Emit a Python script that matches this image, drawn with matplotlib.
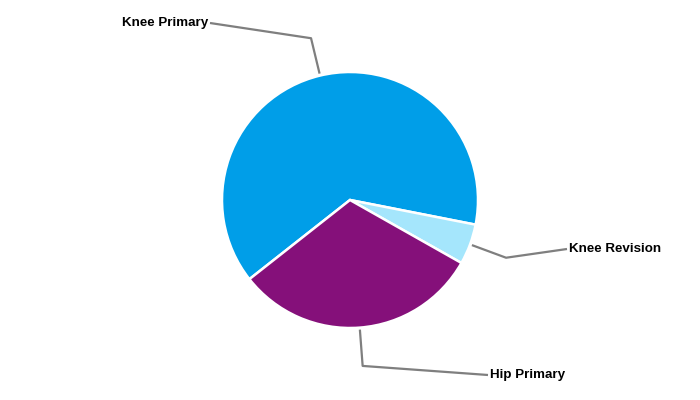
import numpy as np
import matplotlib.pyplot as plt

# data
categories = ["Knee Primary", "Knee Revision", "Hip Primary"]
shares = [63.7, 5.1, 31.2]
colors = ["#009ee8", "#a5e6fc", "#85107a"]

# label anchor points (pixel coords, y from top) and text side
label_pos = [(210, 23), (567, 249), (488, 375)]
label_side = ["right", "left", "left"]

W, H = 700, 400
center = (350, 200)
radius = 128

fig = plt.figure(figsize=(7, 4), dpi=100)
ax = fig.add_axes([0, 0, 1, 1])

wedges, _ = ax.pie(
    shares,
    colors=colors,
    startangle=218.2,
    counterclock=False,
    center=center,
    radius=radius,
    wedgeprops=dict(edgecolor="white", linewidth=1.8),
    frame=True,
)
ax.set_xlim(0, W)
ax.set_ylim(0, H)
ax.set_aspect("equal")
ax.axis("off")

for w, name, (lx, ly), side in zip(wedges, categories, label_pos, label_side):
    mid = np.deg2rad((w.theta1 + w.theta2) / 2)
    x0 = center[0] + (radius + 2) * np.cos(mid)
    y0 = center[1] + (radius + 2) * np.sin(mid)
    x1 = center[0] + radius * 1.3 * np.cos(mid)
    y1 = center[1] + radius * 1.3 * np.sin(mid)
    ax.plot([x0, x1, lx], [y0, y1, H - ly], color="#7f7f7f", lw=1.6,
            solid_capstyle="butt", zorder=1)
    tx = lx - 2 if side == "right" else lx + 2
    ax.text(tx, H - ly, name, ha=side, va="center", fontsize=9.6,
            fontweight="bold", family="Liberation Sans", color="black")

fig.savefig("out.png", dpi=100)
